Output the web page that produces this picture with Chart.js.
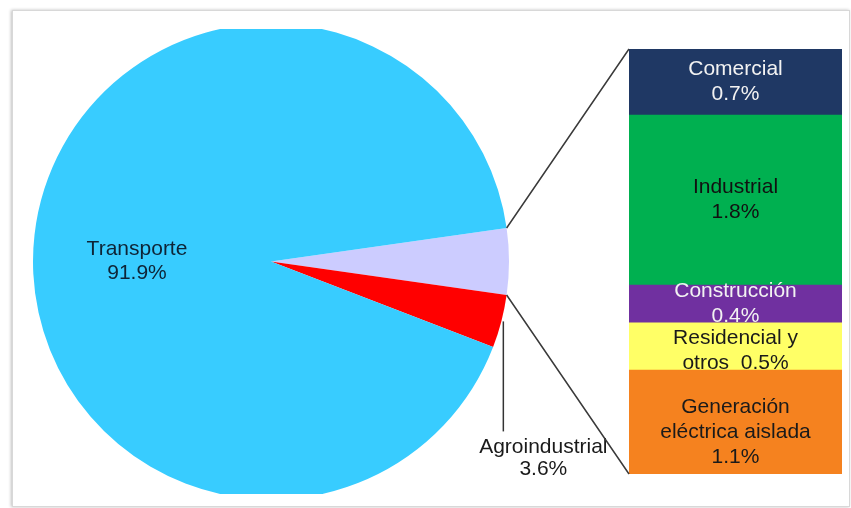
<!DOCTYPE html>
<html lang="es">
<head>
    <meta charset="UTF-8">
    <title>Consumo por sector</title>
    <script src="https://cdn.jsdelivr.net/npm/chart.js"></script>
    <style>
        body {
            margin: 0;
            background: #fff;
        }
        #wrap {
            position: relative;
            width: 851px;
            height: 508px;
            overflow: hidden;
        }
        .frame {
            position: absolute;
            left: 12px;
            top: 10px;
            width: 836px;
            height: 495px;
            border: 1px solid #d8d8d8;
            box-shadow: -1px 0 3px rgba(0, 0, 0, 0.25);
        }
        canvas {
            position: absolute;
            left: 0;
            top: 0;
        }
    </style>
</head>
<body>
    <div id="wrap">
        <div class="frame"></div>
        <canvas id="pie" width="851" height="508"></canvas>
        <canvas id="bar" width="851" height="508"></canvas>
    </div>

    <script>
        // pie: first slice is the one broken out into the bar
        const pieLabels = ["Otros sectores", "Agroindustrial", "Transporte"];
        const pieValues = [4.5, 3.6, 91.9];
        const pieColors = ["#CCCCFF", "#FF0000", "#38CCFF"];

        // bar, bottom to top
        const barNames = ["Generación eléctrica aislada", "Residencial y otros", "Construcción", "Industrial", "Comercial"];
        const barValues = [1.1, 0.5, 0.4, 1.8, 0.7];
        const barColors = ["#F5821F", "#FFFF66", "#7030A0", "#00B050", "#1F3864"];
        const barTextColors = ["#1a1a1a", "#1a1a1a", "#f2f2f2", "#111111", "#f2f2f2"];
        // how each label wraps in the picture ({v} = value)
        const barLines = [
            ["Generación", "eléctrica aislada", "{v}"],
            ["Residencial y", "otros  {v}"],
            ["Construcción", "{v}"],
            ["Industrial", "{v}"],
            ["Comercial", "{v}"]
        ];
        // small vertical nudges so labels sit like the original (px)
        const labelNudge = [10, 4, 0, 0, 0];

        const FONT = '21px "Liberation Sans", Arial, sans-serif';
        const pct = v => v.toFixed(1) + "%";

        const pieText = {
            id: "pieText",
            afterDatasetsDraw(chart) {
                const ctx = chart.ctx;
                const arcs = chart.getDatasetMeta(0).data;
                ctx.save();
                ctx.font = FONT;
                ctx.textAlign = "center";
                ctx.textBaseline = "middle";

                // Transporte, inside the big slice
                const t = arcs[2];
                ctx.fillStyle = "#0e2436";
                ctx.fillText(pieLabels[2], t.x - 134, t.y - 12);
                ctx.fillText(pct(pieValues[2]), t.x - 134, t.y + 12);

                // Agroindustrial, leader line straight down
                const a = arcs[1];
                const mid = (a.startAngle + a.endAngle) / 2;
                const px = a.x + a.outerRadius * Math.cos(mid) + 2;
                const py = a.y + a.outerRadius * Math.sin(mid);
                ctx.strokeStyle = "#333";
                ctx.lineWidth = 1.5;
                ctx.beginPath();
                ctx.moveTo(px, py);
                ctx.lineTo(px, py + 110);
                ctx.stroke();
                ctx.fillStyle = "#1a1a1a";
                ctx.fillText(pieLabels[1], px + 40, py + 126);
                ctx.fillText(pct(pieValues[1]), px + 40, py + 148);
                ctx.restore();
            }
        };

        const pieChart = new Chart(document.getElementById("pie"), {
            type: "pie",
            data: {
                labels: pieLabels,
                datasets: [{
                    data: pieValues,
                    backgroundColor: pieColors,
                    borderWidth: 0,
                    clip: 0
                }]
            },
            options: {
                responsive: false,
                animation: false,
                rotation: 90 - pieValues[0] * 1.8,
                radius: 238,
                layout: { padding: { left: 23, right: 332, top: 29, bottom: 14 } },
                plugins: {
                    legend: { display: false },
                    tooltip: { enabled: false }
                }
            },
            plugins: [pieText]
        });

        const barText = {
            id: "barText",
            afterDatasetsDraw(chart) {
                const ctx = chart.ctx;
                ctx.save();

                // connector lines from the broken-out slice to the bar
                const s = pieChart.getDatasetMeta(0).data[0];
                const bottom = chart.getDatasetMeta(0).data[0];
                const top = chart.getDatasetMeta(barValues.length - 1).data[0];
                ctx.strokeStyle = "#3a3a3a";
                ctx.lineWidth = 1.5;
                ctx.beginPath();
                ctx.moveTo(s.x + s.outerRadius * Math.cos(s.startAngle), s.y + s.outerRadius * Math.sin(s.startAngle));
                ctx.lineTo(top.x - top.width / 2, top.y);
                ctx.moveTo(s.x + s.outerRadius * Math.cos(s.endAngle), s.y + s.outerRadius * Math.sin(s.endAngle));
                ctx.lineTo(bottom.x - bottom.width / 2, bottom.base);
                ctx.stroke();

                // segment labels
                ctx.font = FONT;
                ctx.textAlign = "center";
                ctx.textBaseline = "middle";
                barValues.forEach((v, i) => {
                    const el = chart.getDatasetMeta(i).data[0];
                    const lines = barLines[i].map(l => l.replace("{v}", pct(v)));
                    const cy = (el.y + el.base) / 2 + labelNudge[i];
                    ctx.fillStyle = barTextColors[i];
                    lines.forEach((l, j) => {
                        ctx.fillText(l, el.x, cy + (j - (lines.length - 1) / 2) * 25);
                    });
                });
                ctx.restore();
            }
        };

        new Chart(document.getElementById("bar"), {
            type: "bar",
            data: {
                labels: [pieLabels[0]],
                datasets: barNames.map((n, i) => ({
                    label: n,
                    data: [barValues[i]],
                    backgroundColor: barColors[i],
                    borderWidth: 0,
                    barPercentage: 1,
                    categoryPercentage: 1
                }))
            },
            options: {
                responsive: false,
                animation: false,
                layout: { padding: { left: 629, right: 9, top: 49, bottom: 34 } },
                scales: {
                    x: { display: false, stacked: true },
                    y: { display: false, stacked: true, min: 0, max: pieValues[0] }
                },
                plugins: {
                    legend: { display: false },
                    tooltip: { enabled: false }
                }
            },
            plugins: [barText]
        });
    </script>
</body>
</html>
